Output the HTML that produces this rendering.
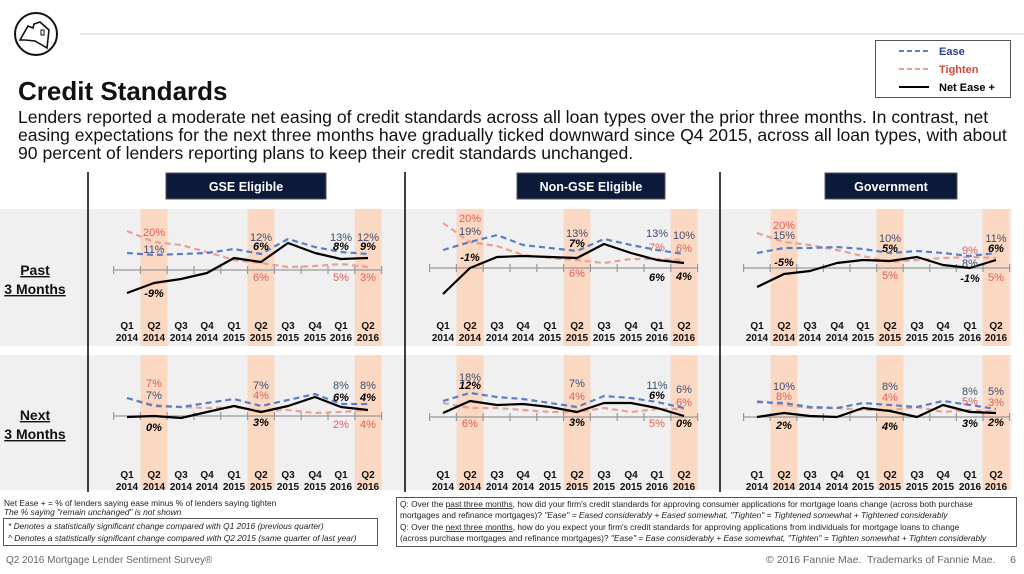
<!DOCTYPE html>
<html><head><meta charset="utf-8"><style>
body{margin:0;width:1024px;height:574px;overflow:hidden;background:#fff;font-family:"Liberation Sans",sans-serif}
svg{position:absolute;left:0;top:0}
</style></head><body>
<svg width="1024" height="574" viewBox="0 0 1024 574" font-family="Liberation Sans, sans-serif">
<!-- logo -->
<circle cx="36" cy="34" r="21" fill="none" stroke="#111" stroke-width="2"/>
<path d="M20 40 L28 26 L33 28 L34 24 L40 22 L49 30 L47 48 L42 45 L35 41 L25 40 Z" fill="none" stroke="#111" stroke-width="1.6"/>
<rect x="41" y="30" width="3" height="5" fill="none" stroke="#111" stroke-width="1"/>
<line x1="80" y1="34" x2="1024" y2="34" stroke="#ddd" stroke-width="1.5"/>
<text x="18" y="100" font-size="26" font-weight="bold" fill="#111">Credit Standards</text>
<text font-size="17.6" fill="#111">
<tspan x="18" y="123">Lenders reported a moderate net easing of credit standards across all loan types over the prior three months. In contrast, net</tspan>
<tspan x="18" y="141">easing expectations for the next three months have gradually ticked downward since Q4 2015, across all loan types, with about</tspan>
<tspan x="18" y="159">90 percent of lenders reporting plans to keep their credit standards unchanged.</tspan>
</text>
<!-- legend -->
<rect x="875.5" y="40.5" width="135" height="57" fill="#fff" stroke="#555"/>
<line x1="899" y1="51" x2="929" y2="51" stroke="#5b7fc7" stroke-width="2" stroke-dasharray="5,3"/>
<text x="939" y="55" font-size="11" font-weight="bold" fill="#2a3d9a">Ease</text>
<line x1="899" y1="69" x2="929" y2="69" stroke="#eaa097" stroke-width="2" stroke-dasharray="5,3"/>
<text x="939" y="73" font-size="11" font-weight="bold" fill="#d9483b">Tighten</text>
<line x1="899" y1="87" x2="929" y2="87" stroke="#000" stroke-width="2"/>
<text x="939" y="91" font-size="11" font-weight="bold" fill="#000">Net Ease +</text>

<!-- bands -->
<rect x="0" y="209" width="1012" height="137" fill="#f0f0f0"/>
<rect x="0" y="355" width="1012" height="135" fill="#f0f0f0"/>
<g fill="#fbd8c2">
<rect x="140.6" y="209" width="26.8" height="137"/><rect x="247.6" y="209" width="26.8" height="137"/><rect x="354.8" y="209" width="26.8" height="137"/>
<rect x="456.6" y="209" width="26.8" height="137"/><rect x="563.6" y="209" width="26.8" height="137"/><rect x="670.6" y="209" width="26.8" height="137"/>
<rect x="770.6" y="209" width="26.8" height="137"/><rect x="876.6" y="209" width="26.8" height="137"/><rect x="982.6" y="209" width="26.8" height="137"/>
<rect x="140.6" y="355" width="26.8" height="135"/><rect x="247.6" y="355" width="26.8" height="135"/><rect x="354.8" y="355" width="26.8" height="135"/>
<rect x="456.6" y="355" width="26.8" height="135"/><rect x="563.6" y="355" width="26.8" height="135"/><rect x="670.6" y="355" width="26.8" height="135"/>
<rect x="770.6" y="355" width="26.8" height="135"/><rect x="876.6" y="355" width="26.8" height="135"/><rect x="982.6" y="355" width="26.8" height="135"/>
</g>
<!-- separators -->
<g stroke="#000" stroke-width="1.5">
<line x1="88" y1="172" x2="88" y2="492"/><line x1="405" y1="172" x2="405" y2="492"/><line x1="720" y1="172" x2="720" y2="492"/>
</g>
<!-- left labels -->
<g font-size="14" font-weight="bold" fill="#111" text-anchor="middle" text-decoration="underline">
<text x="35" y="275">Past</text><text x="35" y="294">3 Months</text>
<text x="35" y="420">Next</text><text x="35" y="439">3 Months</text>
</g>
<!-- headers -->
<g>
<rect x="166" y="173" width="160" height="26" fill="#0b1a3a" stroke="#555"/>
<text x="246" y="191" font-size="12.5" font-weight="bold" fill="#fff" text-anchor="middle">GSE Eligible</text>
<rect x="517" y="173" width="148" height="26" fill="#0b1a3a" stroke="#555"/>
<text x="591" y="191" font-size="12.5" font-weight="bold" fill="#fff" text-anchor="middle">Non-GSE Eligible</text>
<rect x="825" y="173" width="132" height="26" fill="#0b1a3a" stroke="#555"/>
<text x="891" y="191" font-size="12.5" font-weight="bold" fill="#fff" text-anchor="middle">Government</text>
</g>
<!-- axes -->
<g stroke="#999" stroke-width="1.2">
<line x1="113.6" y1="270" x2="381.6" y2="270"/><line x1="429.6" y1="268" x2="697.6" y2="268"/><line x1="743.6" y1="268" x2="1009.6" y2="268"/>
<line x1="113.6" y1="416" x2="381.6" y2="416"/><line x1="429.6" y1="417" x2="697.6" y2="417"/><line x1="743.6" y1="417" x2="1009.6" y2="417"/>
<path d="M113.6 266v8M140.4 266v8M167.2 266v8M194 266v8M220.8 266v8M247.6 266v8M274.4 266v8M301.2 266v8M328 266v8M354.8 266v8M381.6 266v8
M113.6 412v8M140.4 412v8M167.2 412v8M194 412v8M220.8 412v8M247.6 412v8M274.4 412v8M301.2 412v8M328 412v8M354.8 412v8M381.6 412v8
M429.6 264v8M456.4 264v8M483.2 264v8M510 264v8M536.8 264v8M563.6 264v8M590.4 264v8M617.2 264v8M644 264v8M670.8 264v8M697.6 264v8
M429.6 413v8M456.4 413v8M483.2 413v8M510 413v8M536.8 413v8M563.6 413v8M590.4 413v8M617.2 413v8M644 413v8M670.8 413v8M697.6 413v8
M743.6 264v8M770.2 264v8M796.8 264v8M823.4 264v8M850 264v8M876.6 264v8M903.2 264v8M929.8 264v8M956.4 264v8M983 264v8M1009.6 264v8
M743.6 413v8M770.2 413v8M796.8 413v8M823.4 413v8M850 413v8M876.6 413v8M903.2 413v8M929.8 413v8M956.4 413v8M983 413v8M1009.6 413v8"/>
</g>
<!-- series -->
<g fill="none" stroke-width="2.2" stroke-linejoin="round">
<g stroke="#eaa097" stroke-dasharray="6,4">
<polyline points="127,231 154,242 181,245 207,252 234,260 261,263 288,267 315,266 341,264 368,267"/>
<polyline points="443,223 470,242 497,246 523,255 550,258 577,260 604,263 631,259 657,259 684,260"/>
<polyline points="757,233 784,242 810,245 837,250 863,256 890,262 917,260 943,258 970,257 996,258"/>
<polyline points="127,398 154,405 181,407 207,408 234,407 261,411 288,410 315,413 341,412 368,410"/>
<polyline points="443,403 470,408 497,408 523,410 550,412 577,412 604,408 631,412 657,409 684,409"/>
<polyline points="757,401 784,405 810,408 837,408 863,410 890,410 917,407 943,412 970,410 996,412"/>
</g>
<g stroke="#5b7fc7" stroke-dasharray="6,4">
<polyline points="127,253 154,255 181,254 207,253 234,249 261,254 288,239 315,247 341,252 368,254"/>
<polyline points="443,250 470,242 497,235 523,245 550,248 577,251 604,239 631,245 657,250 684,254"/>
<polyline points="757,253 784,248 810,248 837,247 863,249 890,253 917,251 943,253 970,256 996,253"/>
<polyline points="127,398 154,406 181,407 207,403 234,399 261,406 288,400 315,394 341,404 368,404"/>
<polyline points="443,401 470,393 497,397 523,399 550,403 577,407 604,396 631,398 657,402 684,408"/>
<polyline points="757,402 784,403 810,407 837,408 863,403 890,405 917,407 943,401 970,405 996,409"/>
</g>
<g stroke="#000">
<polyline points="127,293 154,283 181,279 207,273 234,258 261,262 288,243 315,253 341,259 368,258"/>
<polyline points="443,294 470,268 497,257 523,256 550,257 577,258 604,244 631,253 657,260 684,263"/>
<polyline points="757,287 784,274 810,271 837,263 863,260 890,261 917,257 943,265 970,268 996,260"/>
<polyline points="127,417 154,416 181,418 207,412 234,406 261,412 288,406 315,397 341,407 368,410"/>
<polyline points="443,413 470,401 497,405 523,404 550,407 577,412 604,403 631,403 657,408 684,416"/>
<polyline points="757,417 784,413 810,416 837,417 863,408 890,411 917,417 943,405 970,412 996,413"/>
</g>
</g>
<!-- value labels -->
<g font-size="11" text-anchor="middle">
<g fill="#e0605a">
<text x="154" y="236">20%</text><text x="261" y="281">6%</text><text x="341" y="281">5%</text><text x="368" y="281">3%</text>
<text x="470" y="222">20%</text><text x="577" y="277">6%</text><text x="657" y="251">7%</text><text x="684" y="252">6%</text>
<text x="784" y="229">20%</text><text x="890" y="279">5%</text><text x="970" y="254">9%</text><text x="996" y="281">5%</text>
<text x="154" y="387">7%</text><text x="261" y="399">4%</text><text x="341" y="428">2%</text><text x="368" y="428">4%</text>
<text x="470" y="427">6%</text><text x="577" y="400">4%</text><text x="657" y="427">5%</text><text x="684" y="406">6%</text>
<text x="784" y="400">8%</text><text x="890" y="401">4%</text><text x="970" y="405">5%</text><text x="996" y="406">3%</text>
</g>
<g fill="#404c70">
<text x="154" y="253">11%</text><text x="261" y="241">12%</text><text x="341" y="241">13%</text><text x="368" y="241">12%</text>
<text x="470" y="235">19%</text><text x="577" y="237">13%</text><text x="657" y="237">13%</text><text x="684" y="239">10%</text>
<text x="784" y="239">15%</text><text x="890" y="242">10%</text><text x="970" y="267">8%</text><text x="996" y="242">11%</text>
<text x="154" y="399">7%</text><text x="261" y="389">7%</text><text x="341" y="389">8%</text><text x="368" y="389">8%</text>
<text x="470" y="381">18%</text><text x="577" y="387">7%</text><text x="657" y="389">11%</text><text x="684" y="393">6%</text>
<text x="784" y="390">10%</text><text x="890" y="390">8%</text><text x="970" y="395">8%</text><text x="996" y="395">5%</text>
</g>
<g fill="#000" font-weight="bold" font-style="italic">
<text x="154" y="297">-9%</text><text x="261" y="250">6%</text><text x="341" y="250">8%</text><text x="368" y="250">9%</text>
<text x="470" y="261">-1%</text><text x="577" y="247">7%</text><text x="657" y="281">6%</text><text x="684" y="280">4%</text>
<text x="784" y="266">-5%</text><text x="890" y="252">5%</text><text x="970" y="282">-1%</text><text x="996" y="252">6%</text>
<text x="154" y="431">0%</text><text x="261" y="426">3%</text><text x="341" y="401">6%</text><text x="368" y="401">4%</text>
<text x="470" y="389">12%</text><text x="577" y="426">3%</text><text x="657" y="399">6%</text><text x="684" y="427">0%</text>
<text x="784" y="429">2%</text><text x="890" y="430">4%</text><text x="970" y="427">3%</text><text x="996" y="426">2%</text>
</g>
</g>
<!-- x labels -->
<g font-size="10" font-weight="bold" fill="#111" text-anchor="middle">
<text x="127" y="329">Q1</text><text x="154" y="329">Q2</text><text x="181" y="329">Q3</text><text x="207" y="329">Q4</text><text x="234" y="329">Q1</text><text x="261" y="329">Q2</text><text x="288" y="329">Q3</text><text x="315" y="329">Q4</text><text x="341" y="329">Q1</text><text x="368" y="329">Q2</text>
<text x="127" y="341">2014</text><text x="154" y="341">2014</text><text x="181" y="341">2014</text><text x="207" y="341">2014</text><text x="234" y="341">2015</text><text x="261" y="341">2015</text><text x="288" y="341">2015</text><text x="315" y="341">2015</text><text x="341" y="341">2016</text><text x="368" y="341">2016</text>
<text x="443" y="329">Q1</text><text x="470" y="329">Q2</text><text x="497" y="329">Q3</text><text x="523" y="329">Q4</text><text x="550" y="329">Q1</text><text x="577" y="329">Q2</text><text x="604" y="329">Q3</text><text x="631" y="329">Q4</text><text x="657" y="329">Q1</text><text x="684" y="329">Q2</text>
<text x="443" y="341">2014</text><text x="470" y="341">2014</text><text x="497" y="341">2014</text><text x="523" y="341">2014</text><text x="550" y="341">2015</text><text x="577" y="341">2015</text><text x="604" y="341">2015</text><text x="631" y="341">2015</text><text x="657" y="341">2016</text><text x="684" y="341">2016</text>
<text x="757" y="329">Q1</text><text x="784" y="329">Q2</text><text x="810" y="329">Q3</text><text x="837" y="329">Q4</text><text x="863" y="329">Q1</text><text x="890" y="329">Q2</text><text x="917" y="329">Q3</text><text x="943" y="329">Q4</text><text x="970" y="329">Q1</text><text x="996" y="329">Q2</text>
<text x="757" y="341">2014</text><text x="784" y="341">2014</text><text x="810" y="341">2014</text><text x="837" y="341">2014</text><text x="863" y="341">2015</text><text x="890" y="341">2015</text><text x="917" y="341">2015</text><text x="943" y="341">2015</text><text x="970" y="341">2016</text><text x="996" y="341">2016</text>
<text x="127" y="478">Q1</text><text x="154" y="478">Q2</text><text x="181" y="478">Q3</text><text x="207" y="478">Q4</text><text x="234" y="478">Q1</text><text x="261" y="478">Q2</text><text x="288" y="478">Q3</text><text x="315" y="478">Q4</text><text x="341" y="478">Q1</text><text x="368" y="478">Q2</text>
<text x="127" y="490">2014</text><text x="154" y="490">2014</text><text x="181" y="490">2014</text><text x="207" y="490">2014</text><text x="234" y="490">2015</text><text x="261" y="490">2015</text><text x="288" y="490">2015</text><text x="315" y="490">2015</text><text x="341" y="490">2016</text><text x="368" y="490">2016</text>
<text x="443" y="478">Q1</text><text x="470" y="478">Q2</text><text x="497" y="478">Q3</text><text x="523" y="478">Q4</text><text x="550" y="478">Q1</text><text x="577" y="478">Q2</text><text x="604" y="478">Q3</text><text x="631" y="478">Q4</text><text x="657" y="478">Q1</text><text x="684" y="478">Q2</text>
<text x="443" y="490">2014</text><text x="470" y="490">2014</text><text x="497" y="490">2014</text><text x="523" y="490">2014</text><text x="550" y="490">2015</text><text x="577" y="490">2015</text><text x="604" y="490">2015</text><text x="631" y="490">2015</text><text x="657" y="490">2016</text><text x="684" y="490">2016</text>
<text x="757" y="478">Q1</text><text x="784" y="478">Q2</text><text x="810" y="478">Q3</text><text x="837" y="478">Q4</text><text x="863" y="478">Q1</text><text x="890" y="478">Q2</text><text x="917" y="478">Q3</text><text x="943" y="478">Q4</text><text x="970" y="478">Q1</text><text x="996" y="478">Q2</text>
<text x="757" y="490">2014</text><text x="784" y="490">2014</text><text x="810" y="490">2014</text><text x="837" y="490">2014</text><text x="863" y="490">2015</text><text x="890" y="490">2015</text><text x="917" y="490">2015</text><text x="943" y="490">2015</text><text x="970" y="490">2016</text><text x="996" y="490">2016</text>
</g>
<!-- footer -->
<g font-size="8.4" fill="#222">
<text x="4" y="506">Net Ease + = % of lenders saying ease minus % of lenders saying tighten</text>
<text x="4" y="515" font-style="italic">The % saying "remain unchanged" is not shown</text>
<rect x="3.5" y="518.5" width="374" height="27" fill="none" stroke="#555"/>
<text x="8" y="529" font-style="italic">* Denotes a statistically significant change compared with Q1 2016 (previous quarter)</text>
<text x="8" y="541" font-style="italic">^ Denotes a statistically significant change compared with Q2 2015 (same quarter of last year)</text>
<rect x="396.5" y="497.5" width="620" height="49" fill="none" stroke="#555"/>
<text x="400" y="507">Q: Over the <tspan text-decoration="underline">past three months</tspan>, how did your firm's credit standards for approving consumer applications for mortgage loans change (across both purchase</text>
<text x="400" y="518">mortgages and refinance mortgages)?  <tspan font-style="italic">"Ease" = Eased considerably + Eased somewhat, "Tighten" = Tightened somewhat + Tightened considerably</tspan></text>
<text x="400" y="530">Q: Over the <tspan text-decoration="underline">next three months</tspan>, how do you expect your firm's credit standards for approving applications from individuals for mortgage loans to change</text>
<text x="400" y="541">(across purchase mortgages and refinance mortgages)? <tspan font-style="italic">"Ease" = Ease considerably + Ease somewhat, "Tighten" = Tighten somewhat + Tighten considerably</tspan></text>
</g>
<text x="6" y="563" font-size="10" fill="#666">Q2 2016 Mortgage Lender Sentiment Survey®</text>
<text x="1016" y="563" font-size="10.5" fill="#666" text-anchor="end" xml:space="preserve">© 2016 Fannie Mae.  Trademarks of Fannie Mae.     6</text>
</svg>
</body></html>
